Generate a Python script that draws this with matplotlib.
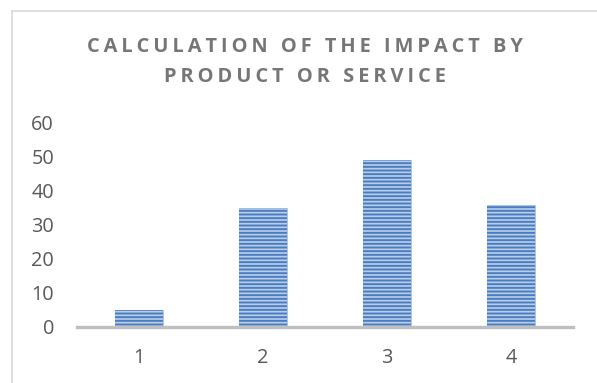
import matplotlib
matplotlib.use("Agg")
import matplotlib.pyplot as plt
from matplotlib.lines import Line2D

# Data
categories = ["1", "2", "3", "4"]
impact = [5, 35, 49, 36]
y_ticks = [0, 10, 20, 30, 40, 50, 60]
title_lines = ["CALCULATION OF THE IMPACT BY", "PRODUCT OR SERVICE"]

DPI = 110
W, H = 597, 383
plt.rcParams["font.family"] = ["Open Sans", "DejaVu Sans"]
plt.rcParams["hatch.linewidth"] = 1.25

fig = plt.figure(figsize=(W / DPI, H / DPI), dpi=DPI)
fig.patch.set_facecolor("white")

# chart-area frame (top and left edges visible)
frame_col = "#d9d9d9"
fig.add_artist(Line2D([12 / W, 1.0], [1 - 11 / H, 1 - 11 / H],
                      transform=fig.transFigure, color=frame_col, lw=1.1))
fig.add_artist(Line2D([12 / W, 12 / W], [0, 1 - 11 / H],
                      transform=fig.transFigure, color=frame_col, lw=1.1))

ax = fig.add_axes([77 / W, (H - 327) / H, (573 - 77) / W, (327 - 123) / H])
x = list(range(len(categories)))
width = 0.39

# base fill, then horizontal stripe pattern on top
ax.bar(x, impact, width=width, color="#b7cce8", edgecolor="#a9c1e2",
       linewidth=0.6, zorder=2)
ax.bar(x, impact, width=width, color="none", edgecolor="#4a7dbf",
       hatch="-----", linewidth=0, zorder=3)

ax.set_xlim(-0.5, len(categories) - 0.5)
ax.set_ylim(0, 60)
ax.set_yticks(y_ticks)
ax.set_yticklabels([str(v) for v in y_ticks])
ax.set_xticks(x)
ax.set_xticklabels(categories)

for s in ["top", "right", "left"]:
    ax.spines[s].set_visible(False)
ax.spines["bottom"].set_color("#bfbfbf")
ax.spines["bottom"].set_linewidth(2.2)
ax.spines["bottom"].set_zorder(4)

ax.tick_params(axis="y", length=0, pad=15, labelsize=13, labelcolor="#595959")
ax.tick_params(axis="x", length=0, pad=14, labelsize=13, labelcolor="#595959")
ax.set_facecolor("none")

# spaced title
sp = "\u2009"
for text, yc in zip(title_lines, [47.5, 77.5]):
    spaced = (sp).join(text)
    fig.text(305 / W, 1 - yc / H, spaced, ha="center", va="center",
             fontsize=13.1, fontweight="bold", color="#767676")

fig.savefig("out.png", dpi=DPI)
